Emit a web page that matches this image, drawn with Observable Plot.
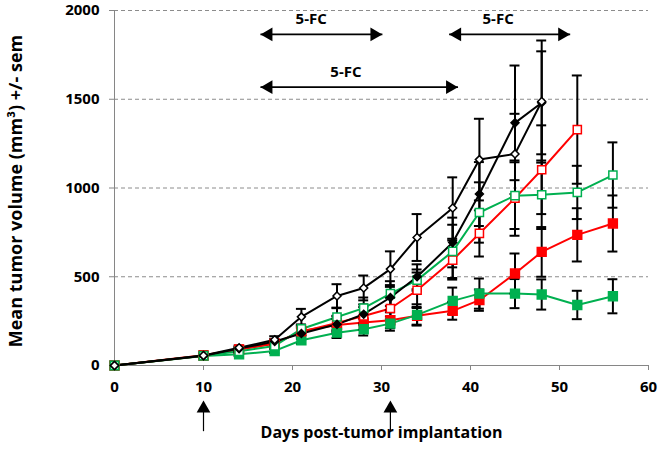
<!DOCTYPE html>
<html><head><meta charset="utf-8">
<script src="https://cdn.jsdelivr.net/npm/d3@7"></script>
<script src="https://cdn.jsdelivr.net/npm/@observablehq/plot@0.6"></script>
<style>body{margin:0;background:#fff;} #chart svg{display:block;}</style>
</head><body><div id="chart"></div>
<script>
// ---- data ----
const days = [0,10,14,18,21,25,28,31,34,38,41,45,48,52,56];
const blackOpen      = [0,56,100,145,274,392,437,543,721,887,1160,1192,1487];
const blackOpenSem   = [0,8,12,20,45,66,70,100,132,173,230,226,344];
const blackFilled    = [0,55,95,135,180,232,289,383,500,693,966,1367,1480];
const blackFilledSem = [0,8,10,15,30,45,55,70,70,140,180,323,290];
const redOpen        = [0,55,90,125,190,240,279,321,424,594,744,943,1103,1329];
const redOpenSem     = [0,8,10,15,30,40,50,60,100,110,130,212,250,305];
const redFilled      = [0,58,91,123,195,228,242,255,280,308,368,518,640,736,800];
const redFilledSem   = [0,8,10,15,25,35,40,45,50,50,60,113,140,150,158];
const greenOpen      = [0,55,80,110,206,273,323,405,481,643,862,957,962,975,1073];
const greenOpenSem   = [0,8,10,15,25,50,60,70,60,150,170,188,193,150,184];
const greenFilled    = [0,54,63,82,142,185,204,236,285,364,405,405,400,341,390];
const greenFilledSem = [0,8,10,12,20,30,35,40,60,75,85,82,85,80,96];

const xTicks = [0,10,20,30,40,50,60];
const yTicks = [0,500,1000,1500,2000];
const treatmentDays = [10, 31];
const fcLabels = ["5-FC","5-FC","5-FC"];
const fcStart  = [16.4, 16.4, 37.6];
const fcEnd    = [30.1, 38.6, 51.2];
const fcLevel  = [1865, 1568, 1865];
const fcTextDay = [22.1, 26.0, 43.1];
const xTitle = "Days post-tumor implantation";
const yTitle = "Mean tumor volume (mm³) +/- sem";

// ---- build ----
const RED = "#ff0000", GREEN = "#00b050", BLACK = "#000000";
const seriesDefs = [
  {values: redFilled,   sem: redFilledSem,   color: RED,   fill: RED,   symbol: "square",   r: 5},
  {values: greenFilled, sem: greenFilledSem, color: GREEN, fill: GREEN, symbol: "square",   r: 5},
  {values: redOpen,     sem: redOpenSem,     color: RED,   fill: "white", symbol: "square", r: 4.6},
  {values: greenOpen,   sem: greenOpenSem,   color: GREEN, fill: "white", symbol: "square", r: 4.6},
  {values: blackFilled, sem: blackFilledSem, color: BLACK, fill: BLACK, symbol: "diamond2", r: 3.6},
  {values: blackOpen,   sem: blackOpenSem,   color: BLACK, fill: "white", symbol: "diamond2", r: 3.6}
];
const rowsOf = s => s.values.map((v,i) => ({day: days[i], v, sem: s.sem[i]}));
const allRows = seriesDefs.flatMap(rowsOf).filter(d => d.sem > 0);
const capHalf = 0.56;

const fc = fcLabels.map((t,i) => ({t, a: fcStart[i], b: fcEnd[i], y: fcLevel[i], tx: fcTextDay[i]}));
const treat = treatmentDays.map(d => ({day: d}));

const FONT = "'Open Sans', sans-serif";
const marks = [
  Plot.gridY(yTicks.filter(t => t > 0), {stroke: "#8c8c8c", strokeOpacity: 1, strokeDasharray: "4,3"}),
  Plot.ruleY([0], {stroke: "#868686"}),
  Plot.ruleX([0], {stroke: "#868686"}),
  Plot.axisY(yTicks, {tickSize: 5, tickPadding: 10, tickFormat: d => String(d), stroke: "#868686", fill: "black", fontWeight: "bold", fontSize: 15, label: null}),
  Plot.axisX(xTicks, {tickSize: 5, tickPadding: 11, tickFormat: d => String(d), stroke: "#868686", fill: "black", fontWeight: "bold", fontSize: 15, label: null}),
  ...seriesDefs.map(s => Plot.line(rowsOf(s), {x: "day", y: "v", stroke: s.color, strokeWidth: 2})),
  Plot.ruleX(allRows, {x: "day", y1: d => d.v - d.sem, y2: d => d.v + d.sem, stroke: "black", strokeWidth: 2}),
  Plot.ruleY(allRows, {y: d => d.v + d.sem, x1: d => d.day - capHalf, x2: d => d.day + capHalf, stroke: "black", strokeWidth: 2}),
  Plot.ruleY(allRows, {y: d => d.v - d.sem, x1: d => d.day - capHalf, x2: d => d.day + capHalf, stroke: "black", strokeWidth: 2}),
  ...seriesDefs.map(s => Plot.dot(rowsOf(s), {x: "day", y: "v", symbol: s.symbol, r: s.r, fill: s.fill, stroke: s.color, strokeWidth: 1.5})),
  // 5-FC arrows
  Plot.link(fc, {x1: "a", x2: "b", y1: "y", y2: "y", stroke: "black", strokeWidth: 1.7}),
  Plot.dot(fc, {x: "a", y: "y", symbol: "triangle", r: 5.1, rotate: -90, dx: 8, fill: "black", stroke: "none"}),
  Plot.dot(fc, {x: "b", y: "y", symbol: "triangle", r: 5.1, rotate: 90, dx: -8, fill: "black", stroke: "none"}),
  Plot.text(fc, {x: "tx", y: "y", text: "t", dy: -15, fontWeight: "bold", fontSize: 15, fill: "black"}),
  // treatment arrows under the axis
  Plot.link(treat, {x1: "day", x2: "day", y1: -260, y2: -370, stroke: "black", strokeWidth: 1.2}),
  Plot.dot(treat, {x: "day", y: -197, symbol: "triangle", r: 5.1, dy: 8, fill: "black", stroke: "none"}),
  // titles
  Plot.text([xTitle], {frameAnchor: "bottom", dy: 72, text: d => d, fontWeight: "bold", fontSize: 16, fill: "black"}),
  Plot.text([yTitle], {frameAnchor: "left", dx: -98, dy: 3, rotate: -90, textAnchor: "middle", text: d => d, fontWeight: "bold", fontSize: 18, fill: "black"})
];

const chart = Plot.plot({
  width: 661, height: 450,
  marginLeft: 114, marginRight: 13, marginTop: 10, marginBottom: 85,
  x: {domain: [0, 60]},
  y: {domain: [0, 2000]},
  style: {fontFamily: FONT, background: "white", overflow: "visible"},
  marks
});
document.getElementById("chart").appendChild(chart);
</script>
</body></html>
